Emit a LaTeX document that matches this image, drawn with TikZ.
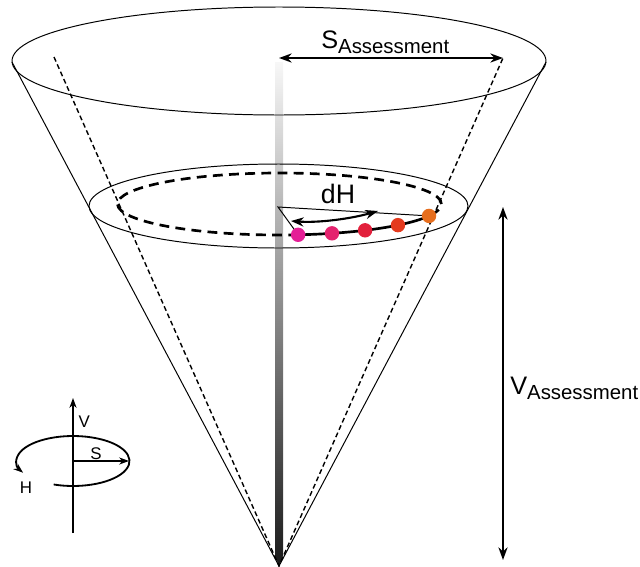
\documentclass[tikz,border=0pt]{standalone}
\usepackage{fontspec}
\setmainfont{Liberation Sans}
\usetikzlibrary{arrows.meta}

\definecolor{hue1}{RGB}{228,30,150}
\definecolor{hue2}{RGB}{228,35,110}
\definecolor{hue3}{RGB}{226,32,60}
\definecolor{hue4}{RGB}{228,58,30}
\definecolor{hue5}{RGB}{230,110,30}

\newcommand{\lowsub}[1]{\raisebox{-0.22em}{\fontsize{14.5}{16}\selectfont #1}}

\begin{document}
\begin{tikzpicture}[
    x=0.025cm, y=-0.025cm,
    rim/.style={line width=0.7pt},
    guide/.style={line width=1pt, dash pattern=on 3.5pt off 2.2pt},
    ring/.style={line width=1.9pt, dash pattern=on 7pt off 4.5pt},
    measure/.style={<->, >={Stealth[length=9pt,width=6.5pt]}, line width=1.5pt},
    icon/.style={->, >={Stealth[length=7pt,width=5pt]}, line width=1.3pt},
    dot/.style={circle, inner sep=0pt, minimum size=0.36cm},
    big/.style={font=\fontsize{18}{20}\selectfont, inner sep=0pt},
    small/.style={font=\fontsize{12}{14}\selectfont, inner sep=1pt}
]
\useasboundingbox (0,0) rectangle (640,567);

\coordinate (apex) at (279,566);
\coordinate (top) at (279,61);
\coordinate (inner) at (278.5,206);
\coordinate (ringc) at (279.5,204);
\coordinate (lside) at (12,62);
\coordinate (rside) at (546,62);
\coordinate (lrim) at (54,57);
\coordinate (saxis) at (279,58);
\coordinate (srim) at (503,58);

% value axis
\shade[top color=black!3, middle color=black!40, bottom color=black!90]
    (275,62) -- (283,62) -- (283,556) -- (apex) -- (275,556) -- cycle;

% cone
\draw[rim] (top) ellipse[x radius=267, y radius=54];
\draw[rim] (lside) -- (apex) -- (rside);
\draw[guide] (lrim) -- (apex) -- (srim);
\draw[measure] (saxis) -- (srim);
\node[big, anchor=base west] (stext) at (321,48) {S\lowsub{Assessment}};

\draw[rim] (inner) ellipse[x radius=189.5, y radius=42];
\draw[ring] (ringc) ++(83.4:162 and 31)
    arc[start angle=83.4, end angle=382.6, x radius=162, y radius=31];
\draw[ring, solid] (ringc) ++(22.6:162 and 31)
    arc[start angle=22.6, end angle=83.4, x radius=162, y radius=31];

\path (ringc) ++(83.4:162 and 31) coordinate (p1);
\path (ringc) ++(71.1:162 and 31) coordinate (p2);
\path (ringc) ++(58.1:162 and 31) coordinate (p3);
\path (ringc) ++(43.0:162 and 31) coordinate (p4);
\path (ringc) ++(22.6:162 and 31) coordinate (p5);

\coordinate (dhtip) at (278,207);
\draw[rim] (p5) -- (dhtip) -- (p1);

\node[dot, fill=hue1] (d1) at (p1) {};
\node[dot, fill=hue2] (d2) at (p2) {};
\node[dot, fill=hue3] (d3) at (p3) {};
\node[dot, fill=hue4] (d4) at (p4) {};
\node[dot, fill=hue5] (d5) at (p5) {};

\coordinate (dha) at (291,221);
\coordinate (dhb) at (378,211);
\draw[measure] (dha) .. controls (318,223) and (350,219) .. (dhb);
\node[font=\fontsize{19}{22}\selectfont, inner sep=0pt, anchor=base] (dh) at (338,203) {dH};

% vertical extent
\coordinate (vtop) at (503,207);
\coordinate (vbot) at (503,560);
\draw[measure] (vtop) -- (vbot);
\node[big, anchor=base west] (vtext) at (510,394) {V\lowsub{Assessment}};

% small axis icon
\coordinate (hub) at (73,461);
\coordinate (vtail) at (73,533);
\coordinate (vhead) at (73,398);
\coordinate (shead) at (129,461);
\draw[icon] (vtail) -- (vhead);
\draw[icon] (hub) -- (shead);
\draw[icon] (hub) ++(110:56.5 and 25)
    arc[start angle=110, end angle=-208, x radius=56.5, y radius=25];
\node[small, anchor=west] (vlabel) at (77,422) {V};
\node[small] (slabel) at (96,454) {S};
\node[small] (hlabel) at (26,488) {H};

\end{tikzpicture}
\end{document}
